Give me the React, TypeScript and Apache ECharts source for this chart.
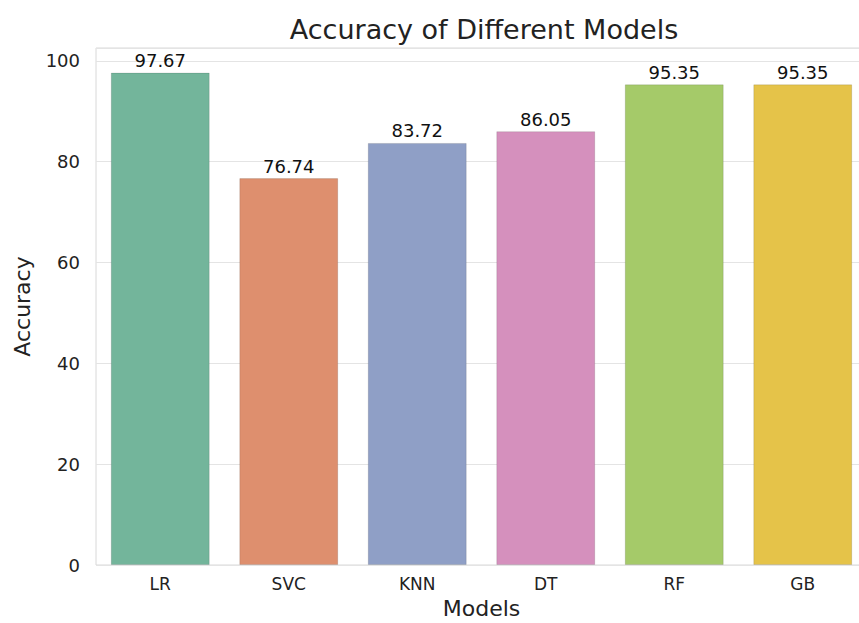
import React, { useEffect, useRef } from "react";
import * as echarts from "echarts";

const models = ["LR", "SVC", "KNN", "DT", "RF", "GB"];
const accuracy = [97.67, 76.74, 83.72, 86.05, 95.35, 95.35];
const barColors = ["#73b59b", "#de8f6e", "#8f9fc6", "#d590bd", "#a5ca69", "#e5c349"];
const yTicks = [0, 20, 40, 60, 80, 100];

export default function App() {
  const ref = useRef<HTMLDivElement>(null);
  useEffect(() => {
    if (!ref.current) return;
    const chart = echarts.init(ref.current, null, { renderer: "svg" });
    chart.setOption({
      animation: false,
      backgroundColor: "#ffffff",
      title: {
        text: "Accuracy of Different Models",
        left: 479,
        top: 11,
        textAlign: "center",
        textStyle: { fontFamily: "DejaVu Sans", fontSize: 27, fontWeight: "normal", color: "#222" },
      },
      grid: {
        left: 96,
        top: 48,
        width: 771,
        height: 517,
        show: true,
        borderColor: "#d8d8d8",
        borderWidth: 1,
        outerBoundsMode: "none",
        containLabel: false,
      },
      xAxis: {
        type: "category",
        data: models,
        name: "Models",
        nameLocation: "middle",
        nameGap: 32,
        nameTextStyle: { fontFamily: "DejaVu Sans", fontSize: 22, color: "#222" },
        axisLine: { show: false },
        axisTick: { show: false },
        axisLabel: { fontFamily: "DejaVu Sans", fontSize: 17, color: "#222", margin: 10 },
      },
      yAxis: {
        type: "value",
        min: 0,
        max: 102.55,
        interval: 20,
        name: "Accuracy",
        nameLocation: "middle",
        nameGap: 63,
        nameTextStyle: { fontFamily: "DejaVu Sans", fontSize: 22, color: "#222" },
        axisLine: { show: false },
        axisTick: { show: false },
        axisLabel: {
          fontFamily: "DejaVu Sans",
          fontSize: 18,
          color: "#222",
          margin: 16,
          formatter: (v: number) => (yTicks.includes(v) ? String(v) : ""),
        },
        splitLine: { show: true, lineStyle: { color: "#e4e4e4", width: 1 } },
      },
      series: [
        {
          type: "bar",
          barWidth: "77%",
          data: accuracy.map((v, i) => ({
            value: v,
            itemStyle: { color: barColors[i], borderColor: "rgba(0,0,0,0.12)", borderWidth: 1 },
          })),
          label: {
            show: true,
            position: "top",
            distance: 3,
            fontFamily: "DejaVu Sans",
            fontSize: 18,
            color: "#111",
            formatter: (p: any) => p.value.toFixed(2),
          },
        },
      ],
    });
    return () => chart.dispose();
  }, []);
  return <div ref={ref} style={{ width: 859, height: 623, position: "absolute", left: 0, top: 0 }} />;
}
